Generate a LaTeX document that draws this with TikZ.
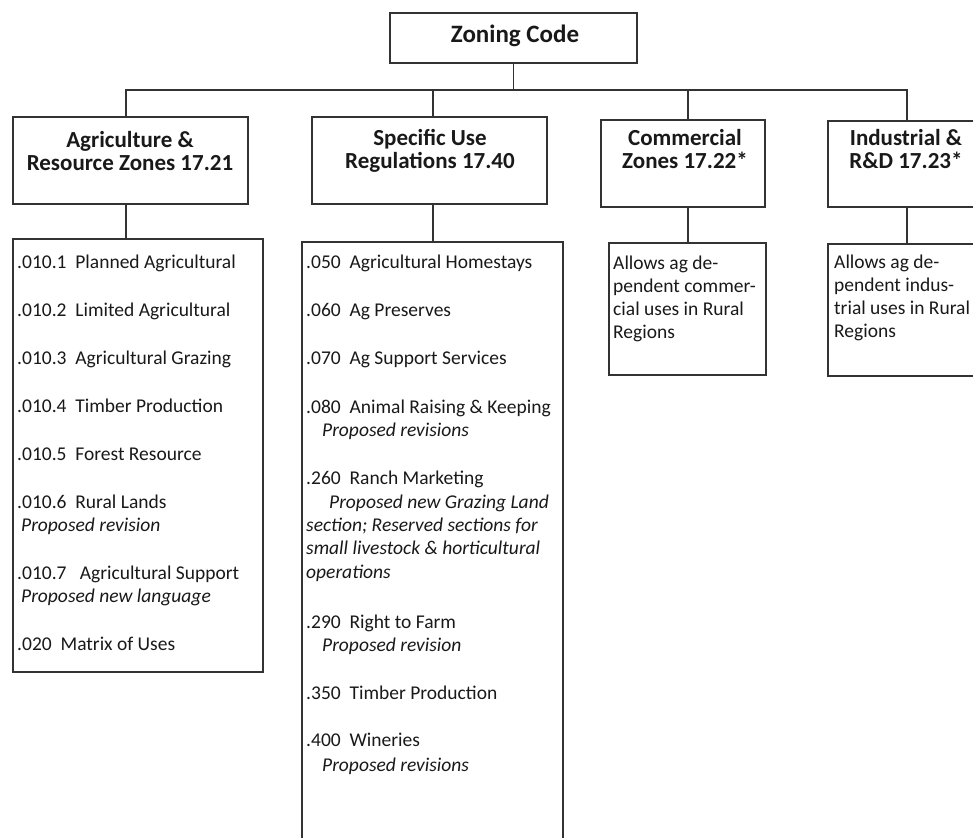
\documentclass[tikz,border=0pt]{standalone}
\usepackage{fontspec}
\setmainfont{Carlito}
\begin{document}
\begin{tikzpicture}[x=1pt,y=-1pt,
  box/.style={draw=black!80, line width=1.3pt, inner sep=0},
  hdr/.style={font=\fontsize{23}{23}\selectfont\bfseries, align=center, text=black!90, inner sep=0},
  itm/.style={font=\fontsize{19.5}{23}\selectfont, anchor=base west, inner sep=0, text=black!90},
  note/.style={font=\fontsize{19.5}{23}\selectfont\itshape, anchor=base west, inner sep=0, text=black!90},
  wire/.style={draw=black!80, line width=1.3pt}]
\useasboundingbox (0,0) rectangle (973,837);
\fill[white] (0,0) rectangle (973,837);
\begin{scope}
\clip (0,0) rectangle (973,837);
% boxes
\node[box, minimum width=247, minimum height=50] (zc) at (513.5,38) {};
\node[box, minimum width=235, minimum height=87] (agrih) at (130.5,160.5) {};
\node[box, minimum width=235, minimum height=87] (spech) at (429.5,160.5) {};
\node[box, minimum width=164, minimum height=87] (commh) at (683,163.5) {};
\node[box, minimum width=182, minimum height=86] (indh) at (919,164) {};
\node[box, minimum width=250, minimum height=433] (agril) at (138,455.5) {};
\node[box, minimum width=261, minimum height=618] (specl) at (432.5,551) {};
\node[box, minimum width=157, minimum height=132] (comml) at (687.5,309) {};
\node[box, minimum width=182, minimum height=132] (indl) at (919,310) {};
% header texts
\node[hdr, font=\fontsize{25}{25}\selectfont\bfseries] (zct) at (515,36) {Zoning Code};
\node[hdr] (agrit) at (130,151) {Agriculture \&\\Resource Zones 17.21};
\node[hdr] (spect) at (430,151) {Specific Use\\Regulations 17.40};
\node[hdr] (commt) at (685,149) {Commercial\\Zones 17.22*};
\node[hdr] (indt) at (906,149) {Industrial \&\\R\&D 17.23*};
% connectors
\coordinate (busA) at (126,90);
\coordinate (busS) at (433,90);
\coordinate (busC) at (688,90);
\coordinate (busI) at (907,90);
\draw[wire] (zc.south) -- (zc.south |- busA);
\draw[wire] (busA |- agrih.north) -- (busA) -- (busI) -- (busI |- indh.north);
\draw[wire] (busS) -- (busS |- spech.north);
\draw[wire] (busC) -- (busC |- commh.north);
\draw[wire] (busA |- agrih.south) -- (busA |- agril.north);
\draw[wire] (busS |- spech.south) -- (busS |- specl.north);
\draw[wire] (busC |- commh.south) -- (busC |- comml.north);
\draw[wire] (busI |- indh.south) -- (busI |- indl.north);
% agriculture list
\node[itm] (a1) at (17,268) {.010.1\ \ Planned Agricultural};
\node[itm] (a2) at (17,316) {.010.2\ \ Limited Agricultural};
\node[itm] (a3) at (17,364) {.010.3\ \ Agricultural Grazing};
\node[itm] (a4) at (17,412) {.010.4\ \ Timber Production};
\node[itm] (a5) at (17,460) {.010.5\ \ Forest Resource};
\node[itm] (a6) at (17,508) {.010.6\ \ Rural Lands};
\node[note] (a6n) at (21,531) {Proposed revision};
\node[itm] (a7) at (17,579) {.010.7\ \ \ Agricultural Support};
\node[note] (a7n) at (21,602) {Proposed new language};
\node[itm] (a8) at (17,650) {.020\ \ Matrix of Uses};
% specific use list
\node[itm] (s1) at (306,268) {.050\ \ Agricultural Homestays};
\node[itm] (s2) at (306,316) {.060\ \ Ag Preserves};
\node[itm] (s3) at (306,364) {.070\ \ Ag Support Services};
\node[itm] (s4) at (306,413) {.080\ \ Animal Raising \& Keeping};
\node[note] (s4n) at (322,436) {Proposed revisions};
\node[itm] (s5) at (306,484) {.260\ \ Ranch Marketing};
\node[note] (s5n) at (329,508) {Proposed new Grazing Land};
\node[note] (s5m) at (306,531) {section; Reserved sections for};
\node[note] (s5o) at (306,554) {small livestock \& horticultural};
\node[note] (s5p) at (306,578) {operations};
\node[itm] (s6) at (306,628) {.290\ \ Right to Farm};
\node[note] (s6n) at (322,651) {Proposed revision};
\node[itm] (s7) at (306,699) {.350\ \ Timber Production};
\node[itm] (s8) at (306,746) {.400\ \ Wineries};
\node[note] (s8n) at (322,771) {Proposed revisions};
% commercial / industrial notes
\node[itm] (c1) at (613,269) {Allows ag de-};
\node[itm] (c2) at (613,292) {pendent commer-};
\node[itm] (c3) at (613,315) {cial uses in Rural};
\node[itm] (c4) at (613,338) {Regions};
\node[itm] (i1) at (834,268) {Allows ag de-};
\node[itm] (i2) at (834,291) {pendent indus-};
\node[itm] (i3) at (834,314) {trial uses in Rural};
\node[itm] (i4) at (834,337) {Regions};
\end{scope}
\end{tikzpicture}
\end{document}
